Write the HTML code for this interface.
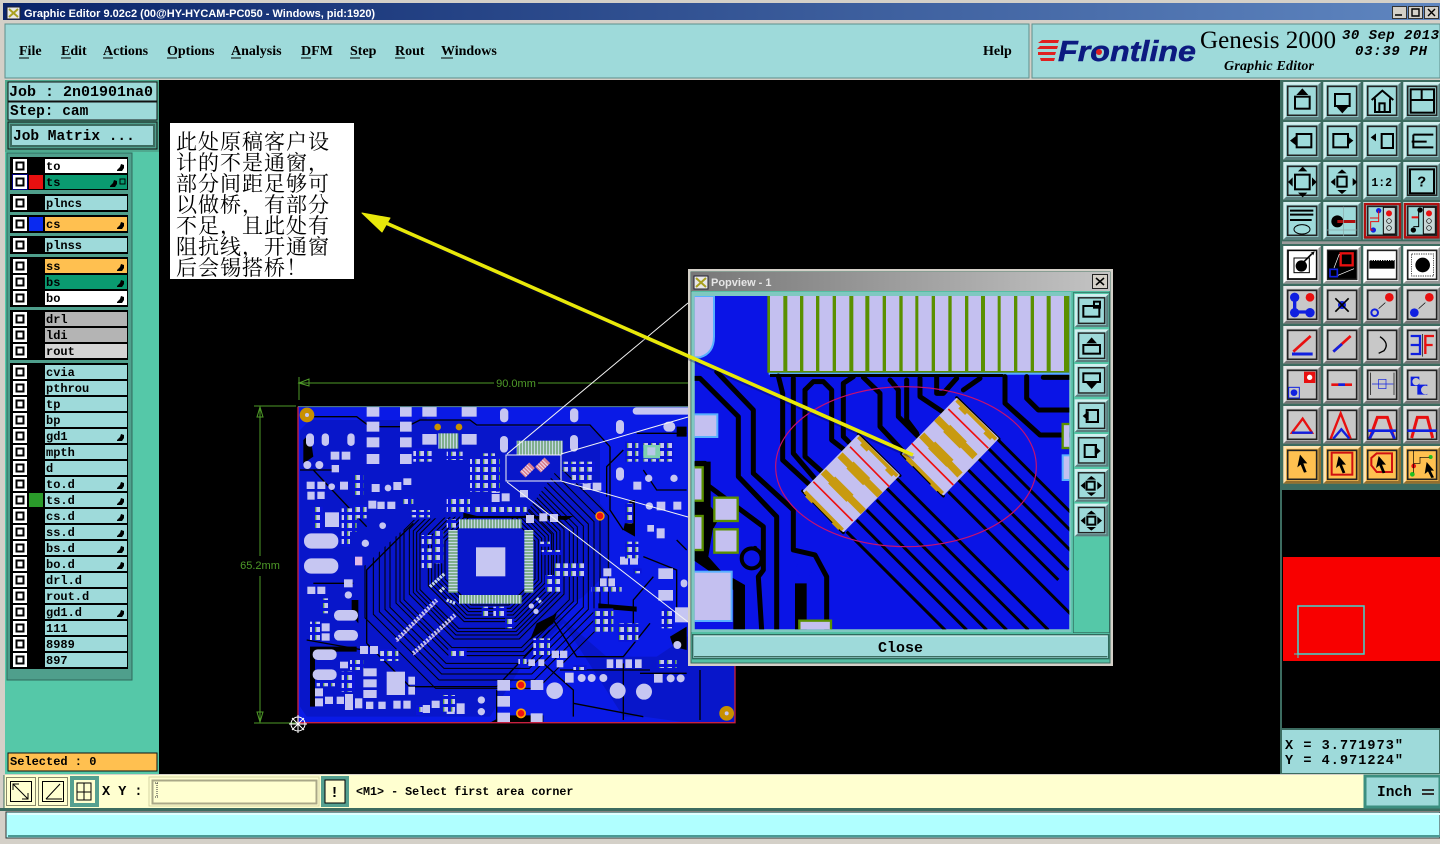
<!DOCTYPE html>
<html><head><meta charset="utf-8"><title>Genesis 2000 Graphic Editor</title>
<style>
html,body{margin:0;padding:0;background:#000;width:1440px;height:844px;overflow:hidden}
svg{display:block}
.m{font-family:"Liberation Mono",monospace;font-weight:bold;fill:#000}
.s{font-family:"Liberation Serif",serif;font-weight:bold;fill:#000;font-size:14px}
.l{font-size:12px}
.w{font-family:"Liberation Sans",sans-serif;font-weight:bold;font-size:11px;fill:#fff}
.cn{font-family:"Liberation Serif","Noto Serif CJK SC",serif;font-size:21px;letter-spacing:1px;fill:#000}
.i{fill:none;stroke:#000;stroke-width:6}
.k{fill:#000}
</style></head><body>
<svg width="1440" height="844" viewBox="0 0 1440 844" xmlns="http://www.w3.org/2000/svg">
<defs>
<linearGradient id="tb" x1="0" x2="1"><stop offset="0" stop-color="#0a246a"/><stop offset="1" stop-color="#5f86c0"/></linearGradient>
<linearGradient id="tb2" x1="0" x2="1"><stop offset="0" stop-color="#777"/><stop offset="1" stop-color="#c4c4c4"/></linearGradient>
<pattern id="cl" width="24" height="24" patternUnits="userSpaceOnUse"><rect width="24" height="24" fill="#0a14d8"/><rect x="3" y="3" width="15" height="15" fill="#c6c6f2"/><rect x="3" y="3" width="4" height="15" fill="#5a9a50"/></pattern>
<pattern id="qv" width="9" height="9" patternUnits="userSpaceOnUse"><rect width="9" height="9" fill="#5c9a60"/><rect x="2" width="5" height="9" fill="#c6d8e8"/></pattern>
<pattern id="qh" width="9" height="9" patternUnits="userSpaceOnUse"><rect width="9" height="9" fill="#5c9a60"/><rect y="2" width="9" height="5" fill="#c6d8e8"/></pattern>
<g id="cb"><rect width="14" height="14" fill="#fff"/><rect x="2.500" y="2.500" width="9" height="9" fill="#000"/><rect x="4.500" y="4.500" width="5" height="5" fill="#fff"/></g>
<g id="b"><rect width="113" height="113" fill="currentColor"/><path d="M0 0H113L105 8H8V105L0 113Z" fill="#fff" opacity=".55"/><path d="M113 113H0L8 105H105V8L113 0Z" fill="#000" opacity=".42"/><rect x="13" y="13" width="87" height="87" fill="none" stroke="#222" stroke-width="5"/></g>
<polygon id="oc" points="-1,-.42 -.42,-1 .42,-1 1,-.42 1,.42 .42,1 -.42,1 -1,.42" fill="none" stroke="#000" stroke-width="1" vector-effect="non-scaling-stroke"/>
<clipPath id="pc"><rect x="14" y="78" width="1124" height="1000"/></clipPath>
<clipPath id="rc"><polygon points="24,1058 24,600 210,600 370,450 500,440 700,440 800,300 1000,300 1000,700 1100,800 1100,1058"/></clipPath>
</defs>

<rect width="1440" height="844" fill="#000"/>
<!-- title -->
<rect width="1440" height="22" fill="#d4d0c8"/>
<rect x="3" y="3" width="1437" height="17" fill="url(#tb)"/>
<rect x="7" y="7" width="13" height="12" fill="#e8e8e8" stroke="#223"/><path d="M9 9L18 17M18 9L9 17" stroke="#a8a020" stroke-width="2"/>
<text class="w" x="24" y="17">Graphic Editor 9.02c2 (00@HY-HYCAM-PC050 - Windows, pid:1920)</text>
<g fill="#d4d0c8" stroke="#333"><rect x="1392.500" y="6.500" width="14" height="12"/><rect x="1408.500" y="6.500" width="14" height="12"/><rect x="1424.500" y="6.500" width="14" height="12"/></g>
<path d="M1395 15h7M1412 9h7v7h-7zM1428 9l7 7M1435 9l-7 7" stroke="#000" stroke-width="1.400" fill="none"/>

<!-- menu -->
<rect y="22" width="1440" height="58" fill="#d4d0c8"/>
<rect x="5" y="24" width="1024" height="54" fill="#9edada" stroke="#5e8f8c"/>
<rect x="1032" y="24" width="408" height="54" fill="#9edada" stroke="#5e8f8c"/>
<text class="s" x="19" y="55">File</text><text class="s" x="61" y="55">Edit</text><text class="s" x="103" y="55">Actions</text><text class="s" x="167" y="55">Options</text><text class="s" x="231" y="55">Analysis</text><text class="s" x="301" y="55">DFM</text><text class="s" x="350" y="55">Step</text><text class="s" x="395" y="55">Rout</text><text class="s" x="441" y="55">Windows</text><text class="s" x="983" y="55">Help</text>
<path d="M19 58h10M61 58h10M103 58h10M167 58h10M231 58h10M301 58h10M350 58h10M395 58h10M441 58h12" stroke="#000"/>
<path d="M1042 40h17l-1 3h-20zM1040 46h18l-1 3h-20zM1038 52h18l-1 3h-17zM1040 58h15l-1 3h-13z" fill="#e02020"/>
<text x="1058" y="61" font-family="Liberation Sans,sans-serif" font-weight="bold" font-style="italic" font-size="29" fill="#0c1a80" stroke="#0c1a80" stroke-width=".5" textLength="138" lengthAdjust="spacingAndGlyphs">Frontline</text>
<circle cx="1099" cy="52" r="3" fill="#e02020"/>
<text x="1200" y="48" font-family="Liberation Serif,serif" font-size="25" fill="#000" textLength="136" lengthAdjust="spacingAndGlyphs">Genesis 2000</text>
<text x="1224" y="70" font-family="Liberation Serif,serif" font-weight="bold" font-style="italic" font-size="14" fill="#000" textLength="90">Graphic Editor</text>
<g font-family="Liberation Mono,monospace" font-weight="bold" font-style="italic" font-size="14" fill="#000"><text x="1342" y="39" textLength="97">30 Sep 2013</text><text x="1355" y="55" textLength="72">03:39 PH</text></g>

<!-- left frame -->
<rect y="80" width="5" height="696" fill="#d4d0c8"/>
<rect x="5" y="80" width="154" height="695" fill="#55c8a8"/>
<rect x="5" y="80" width="154" height="72" fill="#4fa98f"/>
<rect x="8" y="82" width="149" height="19" fill="#9edada" stroke="#111"/>
<rect x="8" y="102" width="149" height="18" fill="#9edada" stroke="#111"/>
<rect x="8" y="122" width="149" height="27" fill="#4f9f8c" stroke="#111"/>
<rect x="11" y="125" width="143" height="21" fill="#9edada" stroke="#3c6c60" stroke-width="2"/>
<text class="m" x="9" y="96" font-size="15">Job : 2n01901na0</text>
<text class="m" x="10" y="115" font-size="14.500">Step: cam</text>
<text class="m" x="13" y="140" font-size="14.500">Job Matrix ...</text>
<rect x="7" y="153" width="125" height="527" fill="#4f9f8c" stroke="#2f6a5c"/>
<!-- layer groups -->
<g fill="#000"><rect x="10" y="157" width="118" height="33"/><rect x="10" y="194" width="118" height="18"/><rect x="10" y="215" width="118" height="18"/><rect x="10" y="236" width="118" height="18"/><rect x="10" y="257" width="118" height="50"/><rect x="10" y="310" width="118" height="50"/><rect x="10" y="363" width="118" height="306"/></g>
<g fill="#9edada">
<rect x="45" y="159" width="82" height="14" fill="#fff"/><rect x="45" y="175" width="82" height="14" fill="#0a9a70"/>
<rect x="45" y="196" width="82" height="14"/><rect x="45" y="217" width="82" height="14" fill="#ffc050"/><rect x="45" y="238" width="82" height="14"/>
<rect x="45" y="259" width="82" height="14" fill="#ffc050"/><rect x="45" y="275" width="82" height="14" fill="#0a9a70"/><rect x="45" y="291" width="82" height="14" fill="#fff"/>
<rect x="45" y="312" width="82" height="14" fill="#b4b4b4"/><rect x="45" y="328" width="82" height="14" fill="#b4b4b4"/><rect x="45" y="344" width="82" height="14" fill="#d4d4d4"/>
<rect x="45" y="365" width="82" height="14"/><rect x="45" y="381" width="82" height="14"/><rect x="45" y="397" width="82" height="14"/><rect x="45" y="413" width="82" height="14"/><rect x="45" y="429" width="82" height="14"/><rect x="45" y="445" width="82" height="14"/><rect x="45" y="461" width="82" height="14"/><rect x="45" y="477" width="82" height="14"/><rect x="45" y="493" width="82" height="14"/><rect x="45" y="509" width="82" height="14"/><rect x="45" y="525" width="82" height="14"/><rect x="45" y="541" width="82" height="14"/><rect x="45" y="557" width="82" height="14"/><rect x="45" y="573" width="82" height="14"/><rect x="45" y="589" width="82" height="14"/><rect x="45" y="605" width="82" height="14"/><rect x="45" y="621" width="82" height="14"/><rect x="45" y="637" width="82" height="14"/><rect x="45" y="653" width="82" height="14"/>
</g>
<rect x="29" y="175" width="14" height="14" fill="#e81010"/><rect x="29" y="217" width="14" height="14" fill="#0a2af0"/><rect x="29" y="493" width="14" height="14" fill="#2a9a2a"/>
<rect x="12" y="174" width="16" height="16" fill="#000080"/>
<use href="#cb" x="13" y="159"/><use href="#cb" x="13" y="175"/><use href="#cb" x="13" y="196"/><use href="#cb" x="13" y="217"/><use href="#cb" x="13" y="238"/><use href="#cb" x="13" y="259"/><use href="#cb" x="13" y="275"/><use href="#cb" x="13" y="291"/><use href="#cb" x="13" y="312"/><use href="#cb" x="13" y="328"/><use href="#cb" x="13" y="344"/><use href="#cb" x="13" y="365"/><use href="#cb" x="13" y="381"/><use href="#cb" x="13" y="397"/><use href="#cb" x="13" y="413"/><use href="#cb" x="13" y="429"/><use href="#cb" x="13" y="445"/><use href="#cb" x="13" y="461"/><use href="#cb" x="13" y="477"/><use href="#cb" x="13" y="493"/><use href="#cb" x="13" y="509"/><use href="#cb" x="13" y="525"/><use href="#cb" x="13" y="541"/><use href="#cb" x="13" y="557"/><use href="#cb" x="13" y="573"/><use href="#cb" x="13" y="589"/><use href="#cb" x="13" y="605"/><use href="#cb" x="13" y="621"/><use href="#cb" x="13" y="637"/><use href="#cb" x="13" y="653"/>
<text class="m l" x="46" y="170">to</text><text class="m l" x="46" y="186">ts</text><text class="m l" x="46" y="207">plncs</text><text class="m l" x="46" y="228">cs</text><text class="m l" x="46" y="249">plnss</text><text class="m l" x="46" y="270">ss</text><text class="m l" x="46" y="286">bs</text><text class="m l" x="46" y="302">bo</text><text class="m l" x="46" y="323">drl</text><text class="m l" x="46" y="339">ldi</text><text class="m l" x="46" y="355">rout</text><text class="m l" x="46" y="376">cvia</text><text class="m l" x="46" y="392">pthrou</text><text class="m l" x="46" y="408">tp</text><text class="m l" x="46" y="424">bp</text><text class="m l" x="46" y="440">gd1</text><text class="m l" x="46" y="456">mpth</text><text class="m l" x="46" y="472">d</text><text class="m l" x="46" y="488">to.d</text><text class="m l" x="46" y="504">ts.d</text><text class="m l" x="46" y="520">cs.d</text><text class="m l" x="46" y="536">ss.d</text><text class="m l" x="46" y="552">bs.d</text><text class="m l" x="46" y="568">bo.d</text><text class="m l" x="46" y="584">drl.d</text><text class="m l" x="46" y="600">rout.d</text><text class="m l" x="46" y="616">gd1.d</text><text class="m l" x="46" y="632">111</text><text class="m l" x="46" y="648">8989</text><text class="m l" x="46" y="664">897</text>
<g fill="#000"><path d="M117 170l3-3 1-3 3 1v3l-2 3h-5zM117 228l3-3 1-3 3 1v3l-2 3h-5zM117 270l3-3 1-3 3 1v3l-2 3h-5zM117 286l3-3 1-3 3 1v3l-2 3h-5zM117 302l3-3 1-3 3 1v3l-2 3h-5zM117 440l3-3 1-3 3 1v3l-2 3h-5zM117 488l3-3 1-3 3 1v3l-2 3h-5zM117 504l3-3 1-3 3 1v3l-2 3h-5zM117 520l3-3 1-3 3 1v3l-2 3h-5zM117 536l3-3 1-3 3 1v3l-2 3h-5zM117 552l3-3 1-3 3 1v3l-2 3h-5zM117 568l3-3 1-3 3 1v3l-2 3h-5zM117 616l3-3 1-3 3 1v3l-2 3h-5zM110 186l3-3 1-3 3 1v3l-2 3h-5z"/></g>
<rect x="120" y="179" width="5" height="5" fill="none" stroke="#000"/>
<rect x="8" y="753" width="149" height="18" fill="#ffc050" stroke="#111"/>
<text class="m l" x="10" y="765">Selected : 0</text>

<!-- dimensions -->
<g stroke="#4e9a28" fill="none"><path d="M298 383H494M538 383H688M299 377V400M299 383l10-4v7zM254 406H296M254 723H296M260 407V556M260 576V722M260 407l-3 10h6zM260 722l-3-10h6z"/></g>
<text x="516" y="387" text-anchor="middle" font-family="Liberation Sans,sans-serif" font-size="11" fill="#4e9a28">90.0mm</text>
<text x="260" y="569" text-anchor="middle" font-family="Liberation Sans,sans-serif" font-size="11" fill="#4e9a28">65.2mm</text>

<!-- PCB -->
<g transform="translate(290 370) scale(.33333)">
<rect x="24" y="110" width="1311" height="948" fill="#0a1ae6"/>
<g fill="#000">
<path d="M30 180L60 150H380L410 130V150H540L560 170H900L930 200V400L960 440V600L880 680L800 730L950 860H1100L1190 800L1335 770V1058H1190L1060 1040H1000L820 760L700 880L600 1040H50L30 1010Z" opacity=".12"/>
<path d="M40 210L60 190 70 260 40 280ZM60 830H200V845H75V1010H60ZM205 690V760L185 735V690ZM520 428L560 438H850L830 450 700 444H520ZM740 760L800 730 790 760 720 810ZM1000 480L1020 390H1035V500ZM1160 170H1190V200H1160ZM640 1036H760V1058H600ZM925 700L1040 710 1040 725 925 715ZM1140 800L1190 770V840L1150 830Z"/>
</g>
<g clip-path="url(#rc)">
<use href="#oc" transform="translate(600 570) scale(135)"/><use href="#oc" transform="translate(600 570) scale(145)"/><use href="#oc" transform="translate(600 570) scale(155)"/><use href="#oc" transform="translate(600 570) scale(165)"/><use href="#oc" transform="translate(600 570) scale(175)"/><use href="#oc" transform="translate(600 570) scale(185)"/><use href="#oc" transform="translate(590 575) scale(200)"/><use href="#oc" transform="translate(590 575) scale(210)"/><use href="#oc" transform="translate(590 575) scale(220)"/><use href="#oc" transform="translate(590 575) scale(232)"/><use href="#oc" transform="translate(590 585) scale(248)"/><use href="#oc" transform="translate(590 585) scale(260)"/><use href="#oc" transform="translate(590 585) scale(272)"/><use href="#oc" transform="translate(590 590) scale(290)"/><use href="#oc" transform="translate(590 590) scale(305)"/><use href="#oc" transform="translate(590 590) scale(322)"/><use href="#oc" transform="translate(590 590) scale(340)"/><use href="#oc" transform="translate(590 590) scale(365)"/>
</g>
<g fill="none" stroke="#000" stroke-width="4"><path d="M30 300H140M40 140H200L240 170H350L390 150H540L560 165H900L960 230M960 230V420L1000 480M1040 190H1190M1000 240L950 290V380M1060 300L1100 360H1190M1160 510L1190 540M1060 560L1160 600V740M1080 760L1000 860H860L790 750M780 780L620 950H360L230 820M230 820V600L370 460M70 300L230 470M70 640H190M50 810L220 840M620 960V1050M810 900H1080M850 1000L1060 1040M1230 900V1050M760 880L850 960V1040M1090 620L1030 690V800M1050 910H1190M1000 1050V880"/></g>
<!-- pads -->
<g fill="#c6c6f2">
<rect x="230" y="110" width="38" height="30"/><rect x="330" y="110" width="35" height="30"/><rect x="397" y="110" width="43" height="30"/><rect x="515" y="110" width="45" height="30"/>
<rect x="630" y="115" width="25" height="42" rx="12"/><rect x="840" y="115" width="25" height="42" rx="12"/><rect x="1028" y="112" width="310" height="22" rx="11"/>
<rect x="48" y="190" width="24" height="40" rx="12"/><rect x="95" y="190" width="22" height="38" rx="11"/><rect x="172" y="190" width="22" height="38" rx="11"/><rect x="630" y="198" width="24" height="50" rx="12"/><rect x="840" y="195" width="24" height="50" rx="12"/><rect x="978" y="150" width="24" height="42" rx="12"/><rect x="978" y="292" width="24" height="40" rx="12"/><rect x="1120" y="155" width="36" height="30" rx="15"/>
<rect x="230" y="155" width="38" height="30"/><rect x="330" y="155" width="35" height="30"/><rect x="230" y="202" width="38" height="30"/><rect x="330" y="202" width="35" height="30"/><rect x="230" y="252" width="38" height="30"/><rect x="330" y="252" width="35" height="30"/><rect x="397" y="192" width="43" height="32"/><rect x="515" y="192" width="45" height="32"/>
<rect x="122" y="245" width="26" height="24"/><rect x="155" y="245" width="26" height="24"/><rect x="125" y="285" width="22" height="22"/><rect x="150" y="335" width="24" height="24"/><rect x="50" y="335" width="24" height="22"/><rect x="82" y="335" width="24" height="22"/><rect x="52" y="365" width="22" height="24"/><rect x="82" y="365" width="22" height="22"/><rect x="235" y="392" width="24" height="24"/><rect x="262" y="395" width="22" height="22"/><rect x="292" y="395" width="24" height="22"/><rect x="245" y="342" width="24" height="24"/><rect x="310" y="336" width="24" height="24"/><rect x="340" y="325" width="24" height="20"/>
<rect x="42" y="490" width="103" height="46" rx="22"/><rect x="42" y="565" width="103" height="46" rx="22"/><rect x="132" y="720" width="72" height="32" rx="15"/><rect x="132" y="780" width="72" height="32" rx="15"/><rect x="68" y="838" width="72" height="32" rx="15"/><rect x="68" y="898" width="72" height="32" rx="15"/>
<rect x="105" y="427" width="42" height="44"/><rect x="290" y="905" width="55" height="70"/><rect x="558" y="532" width="88" height="87"/>
<rect x="162" y="628" width="26" height="24"/><rect x="52" y="650" width="24" height="22"/><rect x="82" y="650" width="24" height="22"/><rect x="95" y="760" width="24" height="24"/><rect x="95" y="790" width="24" height="22"/><rect x="150" y="875" width="24" height="20"/><rect x="210" y="828" width="24" height="24"/><rect x="240" y="828" width="24" height="24"/>
<rect x="75" y="955" width="24" height="24"/><rect x="75" y="985" width="24" height="24"/><rect x="105" y="980" width="24" height="22"/><rect x="140" y="980" width="22" height="22"/><rect x="165" y="972" width="24" height="48"/><rect x="195" y="985" width="22" height="30"/><rect x="228" y="995" width="22" height="22"/><rect x="265" y="995" width="22" height="22"/><rect x="310" y="992" width="22" height="24"/><rect x="340" y="992" width="22" height="24"/><rect x="220" y="895" width="40" height="24"/><rect x="220" y="928" width="40" height="24"/><rect x="220" y="960" width="40" height="24"/><rect x="355" y="920" width="20" height="24"/><rect x="355" y="950" width="20" height="24"/>
<rect x="425" y="992" width="24" height="22"/><rect x="398" y="1005" width="22" height="24"/><rect x="500" y="1000" width="24" height="32"/><rect x="470" y="1012" width="24" height="20"/>
<rect x="622" y="930" width="38" height="32"/><rect x="722" y="930" width="38" height="30"/><rect x="622" y="978" width="38" height="32"/><rect x="622" y="1028" width="38" height="30"/><rect x="722" y="1030" width="36" height="28"/>
<rect x="825" y="908" width="26" height="30"/><rect x="950" y="868" width="20" height="26"/><rect x="978" y="868" width="20" height="26"/><rect x="1006" y="868" width="20" height="26"/><rect x="1035" y="868" width="20" height="26"/><rect x="1092" y="912" width="26" height="26"/><rect x="785" y="842" width="22" height="22"/><rect x="810" y="842" width="22" height="22"/><rect x="800" y="870" width="20" height="22"/><rect x="715" y="868" width="20" height="20"/><rect x="745" y="868" width="18" height="20"/>
<rect x="1105" y="595" width="44" height="32"/><rect x="1105" y="660" width="44" height="32"/><rect x="1155" y="712" width="40" height="45"/><rect x="1172" y="628" width="20" height="24" rx="10"/>
<rect x="708" y="435" width="24" height="24"/><rect x="748" y="430" width="24" height="24"/><rect x="780" y="432" width="24" height="24"/><rect x="690" y="360" width="24" height="22"/><rect x="908" y="338" width="26" height="24"/><rect x="878" y="340" width="24" height="20"/><rect x="1100" y="395" width="26" height="26"/><rect x="1150" y="395" width="24" height="24"/><rect x="990" y="560" width="24" height="24"/><rect x="1020" y="560" width="24" height="24"/><rect x="940" y="595" width="24" height="24"/><rect x="930" y="625" width="20" height="24"/><rect x="955" y="625" width="20" height="24"/><rect x="605" y="345" width="24" height="24"/><rect x="635" y="370" width="24" height="24"/><rect x="605" y="372" width="24" height="24"/><rect x="1030" y="335" width="24" height="24"/><rect x="1100" y="475" width="24" height="30"/><rect x="1072" y="465" width="20" height="20"/>
</g>
<g fill="url(#cl)">
<rect x="370" y="235" width="55" height="40"/><rect x="470" y="245" width="48" height="25"/><rect x="540" y="265" width="90" height="100"/><rect x="575" y="250" width="40" height="20"/><rect x="470" y="380" width="70" height="48"/><rect x="550" y="405" width="160" height="26"/><rect x="365" y="420" width="55" height="22"/><rect x="190" y="315" width="30" height="60"/><rect x="155" y="415" width="45" height="70"/><rect x="190" y="405" width="40" height="40"/><rect x="340" y="380" width="30" height="25"/><rect x="820" y="275" width="95" height="30"/><rect x="845" y="310" width="60" height="30"/><rect x="1005" y="215" width="40" height="60"/><rect x="1060" y="215" width="90" height="60"/><rect x="1005" y="400" width="25" height="60"/><rect x="395" y="495" width="30" height="30"/><rect x="395" y="535" width="30" height="60"/><rect x="430" y="480" width="30" height="100"/><rect x="470" y="448" width="28" height="25"/><rect x="750" y="515" width="30" height="15"/><rect x="755" y="540" width="60" height="15"/><rect x="795" y="580" width="90" height="40"/><rect x="765" y="615" width="50" height="50"/><rect x="905" y="650" width="90" height="15"/><rect x="910" y="715" width="60" height="70"/><rect x="985" y="760" width="60" height="55"/><rect x="1005" y="515" width="40" height="50"/><rect x="1030" y="595" width="25" height="15"/><rect x="60" y="755" width="30" height="55"/><rect x="90" y="685" width="25" height="45"/><rect x="68" y="410" width="30" height="70"/><rect x="155" y="485" width="25" height="45"/><rect x="270" y="838" width="55" height="35"/><rect x="180" y="870" width="40" height="30"/><rect x="155" y="905" width="40" height="60"/><rect x="610" y="710" width="40" height="30"/><rect x="645" y="745" width="28" height="30"/><rect x="730" y="805" width="50" height="50"/><rect x="685" y="865" width="25" height="25"/><rect x="850" y="885" width="40" height="15"/><rect x="1100" y="870" width="60" height="24"/><rect x="475" y="835" width="55" height="25"/><rect x="378" y="1005" width="20" height="30"/><rect x="455" y="975" width="40" height="50"/><rect x="575" y="710" width="20" height="30"/><rect x="1115" y="715" width="35" height="60"/><rect x="80" y="935" width="55" height="14"/></g>
<rect x="680" y="212" width="138" height="42" fill="url(#qv)"/><rect x="445" y="190" width="60" height="46" fill="url(#qv)"/>
<rect x="507" y="448" width="188" height="27" fill="url(#qv)"/><rect x="507" y="675" width="188" height="26" fill="url(#qv)"/><rect x="475" y="480" width="28" height="188" fill="url(#qh)"/><rect x="703" y="480" width="27" height="188" fill="url(#qh)"/>
<rect x="1060" y="225" width="50" height="40" fill="#7fd0b0"/><rect x="1072" y="232" width="24" height="24" fill="#b8c8e8"/>
<g fill="#c6c6f2"><circle cx="52" cy="285" r="12"/><circle cx="88" cy="285" r="12"/><circle cx="125" cy="350" r="10"/><circle cx="294" cy="354" r="10"/><circle cx="278" cy="467" r="10"/><circle cx="226" cy="520" r="11"/><circle cx="175" cy="675" r="11"/><circle cx="1076" cy="325" r="11"/><circle cx="1152" cy="325" r="11"/><circle cx="1078" cy="408" r="11"/><circle cx="1162" cy="825" r="12"/><circle cx="794" cy="962" r="25"/><circle cx="983" cy="962" r="24"/><circle cx="1062" cy="965" r="24"/><circle cx="875" cy="924" r="12"/><circle cx="905" cy="924" r="12"/><circle cx="940" cy="924" r="12"/><circle cx="1142" cy="925" r="12"/><circle cx="1172" cy="925" r="12"/><circle cx="574" cy="990" r="11"/><circle cx="574" cy="1025" r="11"/><circle cx="724" cy="708" r="8"/><circle cx="738" cy="724" r="8"/></g>
<g fill="none" stroke="#c6c6f2" stroke-width="13" stroke-dasharray="6 5"><path d="M320 810L440 690"/><path d="M370 850L495 735"/></g>
<g fill="none" stroke="#e0a0e0" stroke-width="4" stroke-dasharray="3 8"><path d="M320 815L440 695"/><path d="M370 855L495 740"/></g>
<path d="M420 650L465 610M450 665L465 650M470 690L495 700M740 685L755 700" stroke="#c6d8ee" stroke-width="10" stroke-dasharray="7 3"/>
<rect x="195" y="560" width="22" height="26" fill="#e0b8e8"/>
<g fill="#ffa000"><circle cx="930" cy="438" r="14"/><circle cx="693" cy="945" r="15"/><circle cx="693" cy="1030" r="15"/></g>
<g fill="#f01010"><circle cx="930" cy="438" r="10"/><circle cx="693" cy="945" r="10"/><circle cx="693" cy="1030" r="10"/></g>
<g fill="#c89000"><circle cx="51" cy="135" r="22"/><circle cx="1310" cy="1030" r="22"/><circle cx="443" cy="171" r="10"/><circle cx="507" cy="171" r="10"/></g>
<circle cx="51" cy="135" r="6" fill="#c6c6f2"/><circle cx="1310" cy="1030" r="6" fill="#c6c6f2"/>
<!-- tiny chips -->
<g transform="rotate(-45 712 300)"><rect x="692" y="288" width="40" height="24" fill="#d88090"/><path d="M698 288v24M706 288v24M714 288v24M722 288v24" stroke="#eedcee" stroke-width="3"/></g>
<g transform="rotate(-45 758 285)"><rect x="738" y="273" width="40" height="24" fill="#d88090"/><path d="M744 273v24M752 273v24M760 273v24M768 273v24" stroke="#eedcee" stroke-width="3"/></g>
<path d="M24 110V1058H1335V110" fill="none" stroke="#c82040" stroke-width="4"/>
<path d="M24 110H1335" stroke="#5a8a90" stroke-width="3"/>
</g>
<!-- zoom guide lines -->
<g fill="none" stroke="#f4f4f4" stroke-width="1"><rect x="506" y="455" width="55" height="26"/><path d="M507 454L688 303M561 454L688 417M561 481L688 517M507 482L688 622"/></g>
<!-- origin -->
<g fill="none" stroke="#fff"><circle cx="298" cy="724" r="7"/><path d="M289 724h18M298 715v18M292 718l12 12M304 718l-12 12"/></g>

<!-- popup -->
<rect x="688" y="269" width="425" height="397" fill="#d4d0c8"/>
<rect x="691" y="272" width="419" height="391" fill="#55bfa4" stroke="#3c6c60"/>
<rect x="691" y="272" width="419" height="19" fill="url(#tb2)"/>
<rect x="694" y="276" width="14" height="13" fill="#e8e8e8" stroke="#223"/><path d="M696 278l10 9M706 278l-10 9" stroke="#a8a020" stroke-width="2"/>
<text x="711" y="286" font-family="Liberation Sans,sans-serif" font-weight="bold" font-size="11" fill="#e6e6e6">Popview - 1</text>
<rect x="1092.500" y="274.500" width="15" height="14" fill="#d4d0c8" stroke="#222"/><path d="M1096 278l8 7M1104 278l-8 7" stroke="#000" stroke-width="1.500"/>
<g transform="translate(690 270) scale(.33333)">
<rect x="4" y="66" width="1140" height="1020" fill="#7fc8c0"/>
<g clip-path="url(#pc)">
<rect x="14" y="78" width="1124" height="1000" fill="#0a14e6"/>
<rect x="232" y="78" width="906" height="230" fill="#5a9000"/>
<g fill="#c4c0f0"><rect x="240" y="78" width="40" height="225"/><rect x="292" y="78" width="38" height="225"/><rect x="340" y="78" width="38" height="225"/><rect x="388" y="78" width="40" height="225"/><rect x="438" y="78" width="40" height="225"/><rect x="490" y="78" width="36" height="225"/><rect x="538" y="78" width="40" height="225"/><rect x="588" y="78" width="40" height="225"/><rect x="638" y="78" width="38" height="225"/><rect x="685" y="78" width="40" height="225"/><rect x="735" y="78" width="40" height="225"/><rect x="785" y="78" width="40" height="225"/><rect x="835" y="78" width="38" height="225"/><rect x="885" y="78" width="38" height="225"/><rect x="932" y="78" width="40" height="225"/><rect x="982" y="78" width="40" height="225"/><rect x="1032" y="78" width="38" height="225"/><rect x="1082" y="78" width="40" height="225"/></g>
<rect x="236" y="308" width="902" height="6" fill="#58b0ff"/>
<rect x="240" y="312" width="700" height="9" fill="#000"/>
<!-- black zones behind pads -->
<g fill="#000"><path d="M10 575H62V710L90 740 68 780 55 860 95 905 165 945V1078H130V960L60 905 10 870ZM315 940H350V1078H315Z"/></g>
<!-- traces -->
<g fill="none" stroke="#000" stroke-width="15" stroke-linejoin="round" stroke-linecap="round">
<path d="M265 318L278 370V570L365 650"/><path d="M310 325V550L378 630"/><path d="M345 360L370 335H400L425 360V510L470 545"/><path d="M345 360V560L415 622"/><path d="M460 340L490 320M460 340V500L490 530"/><path d="M520 322L570 370V470L640 545"/><path d="M600 330L625 360V440L695 510"/><path d="M690 325V380L780 440"/><path d="M740 320V370H760L800 325"/>
<path d="M650 330V450L680 490"/><path d="M820 360L870 325"/><path d="M945 320V400L1050 495H1138"/><path d="M1010 320V385L1045 420H1138"/><path d="M1060 322H1138"/>
<path d="M14 325H30L145 440V620L260 740V1080"/><path d="M80 305L190 420V610L310 720V840L375 855L410 920V1080"/><path d="M14 580H45V640L220 770V900L205 920L215 1080"/><path d="M195 835V880"/>
</g>
<circle cx="185" cy="865" r="30" fill="#0a14e6" stroke="#000" stroke-width="12"/>
<circle cx="342" cy="898" r="24" fill="#0a14e6"/>
<g fill="none" stroke="#000" stroke-width="9">
<path d="M920 505L1220 805"/><path d="M895 535L1195 835"/><path d="M865 565L1165 865"/><path d="M835 600L1135 900"/><path d="M805 630L1105 930"/><path d="M775 665L1190 1080"/>
<path d="M620 625L1075 1080"/><path d="M590 655L1015 1080"/><path d="M560 690L950 1080"/><path d="M530 720L890 1080"/><path d="M500 750L830 1080"/><path d="M470 785L770 1085"/>
</g>
<!-- pads left -->
<g stroke="#58b0ff" stroke-width="6" fill="#c4c0f0"><path d="M10 78H72V200Q72 250 30 262H10Z"/><rect x="10" y="433" width="72" height="68"/><rect x="10" y="905" width="115" height="148"/></g>
<g stroke="#5a9000" stroke-width="7" fill="#c4c0f0"><rect x="73" y="683" width="70" height="70"/><rect x="73" y="778" width="70" height="70"/><rect x="8" y="592" width="30" height="100"/><rect x="8" y="738" width="30" height="102"/><rect x="328" y="1052" width="95" height="40"/><rect x="1118" y="462" width="30" height="72"/></g>
<rect x="1118" y="556" width="30" height="74" fill="#c4c0f0" stroke="#58b0ff" stroke-width="6"/>
<!-- chips -->
<g stroke-linecap="round"><path d="M505 493L630 617M338 663L460 788M800 383L927 507M635 552L760 678" stroke="#000" stroke-width="9" fill="none"/></g>
<path d="M505 497L626 615 460 783 342 663Z" fill="#c4c0f0" stroke="#c4c0f0" stroke-width="6" stroke-linejoin="round"/>
<path d="M800 387L923 505 760 673 639 552Z" fill="#c4c0f0" stroke="#c4c0f0" stroke-width="6" stroke-linejoin="round"/>
<g fill="none" stroke="#c89a10">
<path d="M505 501L622 618M345 665L458 780M800 391L918 508M642 552L758 670" stroke-width="11"/>
<path d="M515 520L535 540M590 595L610 615M350 675L370 695M430 755L450 775M810 410L830 430M885 485L905 505M652 565L672 585M725 640L745 660" stroke-width="14"/>
<path d="M450 555L570 675M400 605L520 725M740 445L855 560M695 495L810 615" stroke-width="22"/>
<path d="M480 585L530 635M425 630L480 685M770 475L820 525M725 525L780 580" stroke-width="30"/>
</g>
<g fill="none" stroke="#ee1010" stroke-width="5"><path d="M480 530L598 650M370 635L488 753M775 417L895 535M665 520L790 645"/></g>
<ellipse cx="648" cy="590" rx="391" ry="240" fill="none" stroke="#c81070" stroke-width="3.500"/>
</g>
<!-- popup toolbar -->
<rect x="1150" y="68" width="108" height="1020" fill="#55c8a8" stroke="#2f6a5c" stroke-width="2"/>
<g color="#9edada">
<use href="#b" transform="translate(1154 72) scale(.9 .88)"/><use href="#b" transform="translate(1154 178) scale(.9 .87)"/><use href="#b" transform="translate(1154 282) scale(.9 .87)"/><use href="#b" transform="translate(1154 388) scale(.9 .87)"/><use href="#b" transform="translate(1154 492) scale(.9 .87)"/><use href="#b" transform="translate(1154 597) scale(.9 .87)"/><use href="#b" transform="translate(1154 701) scale(.9 .87)"/>
</g>
<g stroke-width="6" fill="none" stroke="#000"><rect x="1180" y="108" width="48" height="32"/><rect x="1212" y="95" width="18" height="18"/><rect x="1180" y="225" width="50" height="26"/><rect x="1180" y="310" width="50" height="26"/><rect x="1190" y="420" width="34" height="36"/><rect x="1184" y="525" width="34" height="36"/><rect x="1190" y="635" width="24" height="24"/><rect x="1192" y="740" width="24" height="24"/></g>
<path class="k" d="M1205 202l16 18h-32zM1205 357l16-18h-32zM1178 438l18-15v30zM1232 543l-18-15v30zM1172 647l14-12v24zM1236 647l-14-12v24zM1204 618l14 11h-28zM1204 678l14-11h-28zM1172 752l14-12v24zM1236 752l-14-12v24zM1204 722l14 11h-28zM1204 782l14-11h-28z"/>
<rect x="8" y="1094" width="1248" height="72" fill="#9edada" stroke="#2f6a5c" stroke-width="4"/>
<path d="M12 1098H1252" stroke="#e0f6f6" stroke-width="3"/><path d="M12 1160H1252" stroke="#3c6c60" stroke-width="4"/>
</g>
<text class="m" x="878" y="652" font-size="15">Close</text>

<!-- right panel -->
<rect x="1281" y="80" width="159" height="410" fill="#3c6c60"/>
<g transform="translate(1280 80) scale(.33333)">
<rect x="0" y="484" width="480" height="8" fill="#9a9a9a"/>
<g color="#9edada">
<use href="#b" x="10" y="6"/><use href="#b" x="130" y="6"/><use href="#b" x="250" y="6"/><use href="#b" x="370" y="6"/>
<use href="#b" x="10" y="126"/><use href="#b" x="130" y="126"/><use href="#b" x="250" y="126"/><use href="#b" x="370" y="126"/>
<use href="#b" x="10" y="246"/><use href="#b" x="130" y="246"/><use href="#b" x="250" y="246"/><use href="#b" x="370" y="246"/>
<use href="#b" x="10" y="366"/><use href="#b" x="130" y="366"/><use href="#b" x="250" y="366"/><use href="#b" x="370" y="366"/></g>
<g color="#fff"><use href="#b" x="10" y="498"/><use href="#b" x="130" y="498"/><use href="#b" x="250" y="498"/><use href="#b" x="370" y="498"/></g>
<g color="#c8c8c8">
<use href="#b" x="10" y="618"/><use href="#b" x="130" y="618"/><use href="#b" x="250" y="618"/><use href="#b" x="370" y="618"/>
<use href="#b" x="10" y="738"/><use href="#b" x="130" y="738"/><use href="#b" x="250" y="738"/><use href="#b" x="370" y="738"/>
<use href="#b" x="10" y="858"/><use href="#b" x="130" y="858"/><use href="#b" x="250" y="858"/><use href="#b" x="370" y="858"/>
<use href="#b" x="10" y="978"/><use href="#b" x="130" y="978"/><use href="#b" x="250" y="978"/><use href="#b" x="370" y="978"/></g>
<g color="#ffc050"><use href="#b" x="10" y="1098"/><use href="#b" x="130" y="1098"/><use href="#b" x="250" y="1098"/><use href="#b" x="370" y="1098"/></g>
<!-- icons row 1-3 -->
<g class="i"><rect x="45" y="50" width="44" height="36"/><rect x="165" y="42" width="44" height="36"/><path d="M275 60L307 32 340 60M285 55V96H330V55"/><rect x="298" y="70" width="16" height="26"/><rect x="392" y="28" width="70" height="70"/><path d="M392 60H462M425 28V60"/>
<rect x="50" y="162" width="44" height="40"/><rect x="160" y="162" width="44" height="40"/><rect x="305" y="162" width="34" height="42"/><path d="M400 164H460M400 164V202H460M395 185H440"/>
<rect x="45" y="284" width="44" height="44"/><rect x="172" y="290" width="28" height="30"/><rect x="390" y="268" width="72" height="72"/></g>
<path class="k" d="M67 25l18 20H49zM187 100l18-20h-36zM30 182l18-14v28zM220 182l-18-14v28zM272 172l16-12v24zM68 260l14 14H54zM68 352l14-14H54zM24 306l14-14v28zM110 306l-14-14v28zM186 268l14 12h-28zM186 342l14-12h-28zM152 306l14-12v24zM232 306l-14-12v24z"/>
<text class="m" x="274" y="318" font-size="36" textLength="62" lengthAdjust="spacingAndGlyphs">1:2</text>
<text class="m" x="412" y="320" font-size="44">?</text>
<!-- row 4 -->
<path d="M30 392H100M30 404H100M30 420H95" stroke="#000" stroke-width="6"/><ellipse cx="66" cy="448" rx="24" ry="14" fill="none" stroke="#000" stroke-width="3"/>
<circle cx="172" cy="424" r="18" fill="#000"/><rect x="172" y="420" width="54" height="9" fill="#b01010"/><path d="M190 380V470M140 450H230" stroke="#8aa8a8" stroke-width="2"/>
<rect x="255" y="372" width="105" height="100" fill="none" stroke="#b01010" stroke-width="7"/><rect x="375" y="372" width="100" height="100" fill="none" stroke="#b01010" stroke-width="7"/>
<rect x="310" y="382" width="36" height="80" fill="#c8d8d8" stroke="#000" stroke-width="3"/><rect x="430" y="382" width="36" height="80" fill="#c8d8d8" stroke="#000" stroke-width="3"/>
<circle cx="327" cy="400" r="9" fill="#e81010"/><circle cx="447" cy="400" r="9" fill="#e81010"/><circle cx="327" cy="423" r="7" fill="none" stroke="#000" stroke-width="2"/><circle cx="327" cy="444" r="7" fill="none" stroke="#000" stroke-width="2"/><circle cx="447" cy="423" r="7" fill="none" stroke="#000" stroke-width="2"/><circle cx="447" cy="444" r="7" fill="none" stroke="#000" stroke-width="2"/>
<circle cx="296" cy="392" r="8" fill="#1020e0"/><circle cx="280" cy="450" r="8" fill="#1020e0"/><path d="M296 392V425H272V450H280M270 414H296" stroke="#e81010" stroke-width="3" fill="none"/>
<circle cx="420" cy="390" r="8" fill="#000"/><circle cx="400" cy="450" r="8" fill="#000"/><path d="M416 390V440H400" stroke="#000" stroke-width="3" fill="none"/><path d="M395 412H415" stroke="#e81010" stroke-width="6"/>
<!-- row 5 -->
<rect x="25" y="512" width="84" height="84" fill="#fff" stroke="#000" stroke-width="3"/><rect x="42" y="534" width="46" height="44" fill="none" stroke="#000" stroke-width="3"/><circle cx="64" cy="558" r="17" fill="#000"/><path d="M72 545L95 522" stroke="#000" stroke-width="5"/><path d="M104 514L92 518 100 526Z" fill="#000"/>
<rect x="144" y="512" width="84" height="84" fill="#000"/><rect x="182" y="520" width="36" height="36" fill="none" stroke="#e81010" stroke-width="7"/><rect x="150" y="568" width="22" height="22" fill="none" stroke="#1020e0" stroke-width="5"/><path d="M178 522L162 564M174 586L222 566" stroke="#fff" stroke-width="2"/>
<rect x="268" y="540" width="76" height="26" fill="#000"/><path d="M268 540H344" stroke="#fff" stroke-width="6" stroke-dasharray="3 4"/>
<rect x="395" y="522" width="66" height="66" fill="none" stroke="#000" stroke-width="2" stroke-dasharray="4 3"/><circle cx="428" cy="555" r="22" fill="#000"/>
<!-- row 6 -->
<g fill="none" stroke="#1020e0" stroke-width="10"><path d="M44 652V696H90"/></g><circle cx="44" cy="652" r="14" fill="#1020e0"/><circle cx="44" cy="698" r="14" fill="#1020e0"/><circle cx="90" cy="698" r="14" fill="#1020e0"/><circle cx="90" cy="652" r="13" fill="#e81010"/>
<circle cx="186" cy="675" r="12" fill="#1020e0"/><path d="M166 655L206 695M206 655L166 695" stroke="#000" stroke-width="5"/>
<circle cx="328" cy="652" r="13" fill="#e81010"/><circle cx="284" cy="698" r="10" fill="none" stroke="#1020e0" stroke-width="6"/><path d="M296 686L316 668" stroke="#000" stroke-width="2"/>
<circle cx="448" cy="652" r="13" fill="#e81010"/><circle cx="403" cy="698" r="13" fill="#1020e0"/><path d="M416 686L436 668" stroke="#000" stroke-width="2"/>
<!-- row 7 -->
<path d="M40 815L92 768" stroke="#e81010" stroke-width="8"/><path d="M36 822H98" stroke="#1020e0" stroke-width="9"/>
<path d="M160 815L212 768" stroke="#e81010" stroke-width="8"/><path d="M160 815L186 792" stroke="#1020e0" stroke-width="8"/>
<path d="M300 770Q330 790 312 812L296 820" fill="none" stroke="#000" stroke-width="4"/>
<path d="M392 768H420V822H392M392 795H420" fill="none" stroke="#1020e0" stroke-width="7"/><path d="M428 762V830" stroke="#000" stroke-width="2"/><path d="M462 768H436V822M436 795H458" fill="none" stroke="#e81010" stroke-width="7"/>
<!-- row 8 -->
<rect x="26" y="922" width="32" height="32" fill="none" stroke="#1020e0" stroke-width="3"/><circle cx="42" cy="938" r="10" fill="#1020e0"/><rect x="72" y="875" width="34" height="34" fill="#e81010"/><circle cx="89" cy="892" r="8" fill="#fff"/>
<path d="M154 914H216" stroke="#e81010" stroke-width="8"/><path d="M175 914H195" stroke="#1020e0" stroke-width="8"/>
<path d="M272 878V945M342 878V945" stroke="#000" stroke-width="2"/><rect x="296" y="898" width="22" height="28" fill="none" stroke="#1020e0" stroke-width="2"/><path d="M276 912H340" stroke="#1020e0" stroke-width="2"/>
<path d="M392 890h26v24h24v30h-30v-26h-20z" fill="#1020e0"/><circle cx="408" cy="905" r="11" fill="#c8c8c8"/><circle cx="436" cy="930" r="13" fill="#c8c8c8"/>
<!-- row 9 -->
<path d="M68 1016L96 1058H36Z" fill="none" stroke="#e81010" stroke-width="7"/><path d="M36 1058H98" stroke="#1020e0" stroke-width="7"/>
<path d="M152 1076L182 1000 212 1076" fill="none" stroke="#e81010" stroke-width="7"/><path d="M160 1076L184 1048 208 1076" fill="none" stroke="#1020e0" stroke-width="7"/>
<path d="M270 1074L292 1012H322L342 1074" fill="none" stroke="#e81010" stroke-width="9"/><path d="M264 1052H348M268 1076L282 1052M344 1076L332 1052" fill="none" stroke="#1020e0" stroke-width="8"/>
<path d="M395 1074L412 1012H442L458 1074" fill="none" stroke="#e81010" stroke-width="9"/><path d="M382 1052H470" stroke="#1020e0" stroke-width="8"/>
<!-- row 10 -->
<path d="M60 1124L82 1150 70 1150 80 1176 72 1178 62 1154 52 1162Z" fill="#000"/>
<rect x="155" y="1118" width="62" height="66" fill="none" stroke="#d01010" stroke-width="6"/><path d="M176 1128L198 1154 186 1154 196 1178 188 1180 178 1156 168 1164Z" fill="#000"/>
<path d="M290 1120H336V1176H290L274 1156V1134Z" fill="none" stroke="#d01010" stroke-width="6"/><path d="M296 1128L318 1154 306 1154 316 1178 308 1180 298 1156 288 1164Z" fill="#000"/>
<circle cx="401" cy="1158" r="7" fill="#e81010"/><circle cx="397" cy="1183" r="7" fill="#20c020"/><circle cx="452" cy="1131" r="6" fill="#20c020"/><path d="M401 1110V1178M401 1150H420V1132H448" stroke="#000" stroke-width="2" fill="none"/><path d="M440 1146L462 1172 452 1172 462 1192 454 1194 444 1174 434 1182Z" fill="#000"/>
</g>
<rect x="1281" y="490" width="159" height="240" fill="#000"/>
<rect x="1283" y="557" width="157" height="104" fill="#f80000"/>
<rect x="1298" y="606" width="66" height="48" fill="none" stroke="#40d8d0" stroke-width="1.500"/>
<path d="M1294 654h8M1298 650v8" stroke="#40d8d0"/>
<rect x="1281" y="729" width="159" height="45" fill="#9edada" stroke="#3c6c60" stroke-width="2"/>
<text class="m" x="1285" y="749" font-size="13.500" textLength="118">X = 3.771973"</text>
<text class="m" x="1285" y="764" font-size="13.500" textLength="118">Y = 4.971224"</text>
<path d="M1281 80V730" stroke="#3c6c60" stroke-width="2"/>

<!-- bottom -->
<rect y="774" width="1440" height="70" fill="#d4d0c8"/>
<rect x="4" y="775" width="1436" height="33" fill="#ffffd0"/>
<rect x="0" y="808" width="1440" height="3" fill="#3c6c60"/>
<path d="M4 775V808" stroke="#3c6c60" stroke-width="1"/>
<g fill="#ffffd0" stroke="#88886a"><rect x="6.500" y="777.500" width="29" height="28"/><rect x="38.500" y="777.500" width="29" height="28"/></g>
<g fill="none" stroke="#000"><rect x="10.500" y="781.500" width="21" height="20"/><path d="M13 784l15 15M28 793v6h-6M13 790v-6h6"/><rect x="42.500" y="781.500" width="21" height="20"/><path d="M46 799L60 784M46 799H62"/></g>
<rect x="70" y="776" width="29" height="31" fill="#55a090"/><rect x="74" y="780" width="21" height="23" fill="#ffffd0"/><path d="M77 783h14v17H77zM77 792h14M84 783v17" fill="none" stroke="#000"/>
<text class="m" x="102" y="795" font-size="13.500">X Y :</text>
<rect x="149" y="777" width="170" height="29" fill="#ffffd0" stroke="#d4d4a4" stroke-width="1"/>
<rect x="152.500" y="780.500" width="164" height="23" fill="#ffffd0" stroke="#aaa888" stroke-width="2"/>
<path d="M155 783h4M155 797h4M157 783v14" stroke="#333" stroke-dasharray="1 1"/>
<rect x="321" y="776" width="28" height="31" fill="#55a090"/><rect x="325" y="780" width="20" height="23" fill="#ffffd0" stroke="#000"/>
<text class="m" x="330" y="797" font-size="15">!</text>
<text class="m" x="356" y="795" font-size="11.700">&lt;M1&gt; - Select first area corner</text>
<rect x="1365" y="776" width="75" height="31" fill="#9edada" stroke="#3c8f80" stroke-width="3"/>
<text class="m" x="1377" y="796" font-size="14.500">Inch</text><path d="M1422 790h12M1422 794h12" stroke="#333" stroke-width="2"/>
<rect x="6" y="812" width="1434" height="26" fill="#b0ffff" stroke="#333" stroke-width="1"/>
<path d="M8 814H1440" stroke="#e0ffff" stroke-width="2"/><path d="M8 836H1440" stroke="#4a9a94" stroke-width="2"/>

<!-- annotation -->
<rect x="170" y="123" width="184" height="156" fill="#fff"/>
<text class="cn" x="176" y="149">此处原稿客户设</text>
<text class="cn" x="176" y="170">计的不是通窗，</text>
<text class="cn" x="176" y="191">部分间距足够可</text>
<text class="cn" x="176" y="212">以做桥，有部分</text>
<text class="cn" x="176" y="233">不足，且此处有</text>
<text class="cn" x="176" y="254">阻抗线，开通窗</text>
<text class="cn" x="176" y="275">后会锡搭桥！</text>
<!-- arrow -->
<path d="M386 224L913 456" stroke="#000040" stroke-width="3" opacity=".3" transform="translate(1 2)"/>
<path d="M386 223L913 455" stroke="#e8e80a" stroke-width="3.600"/>
<path d="M362 213L390 218 382 232Z" fill="#e8e80a" stroke="#e8e80a" stroke-width="1" stroke-linejoin="round"/>
</svg>
</body></html>
